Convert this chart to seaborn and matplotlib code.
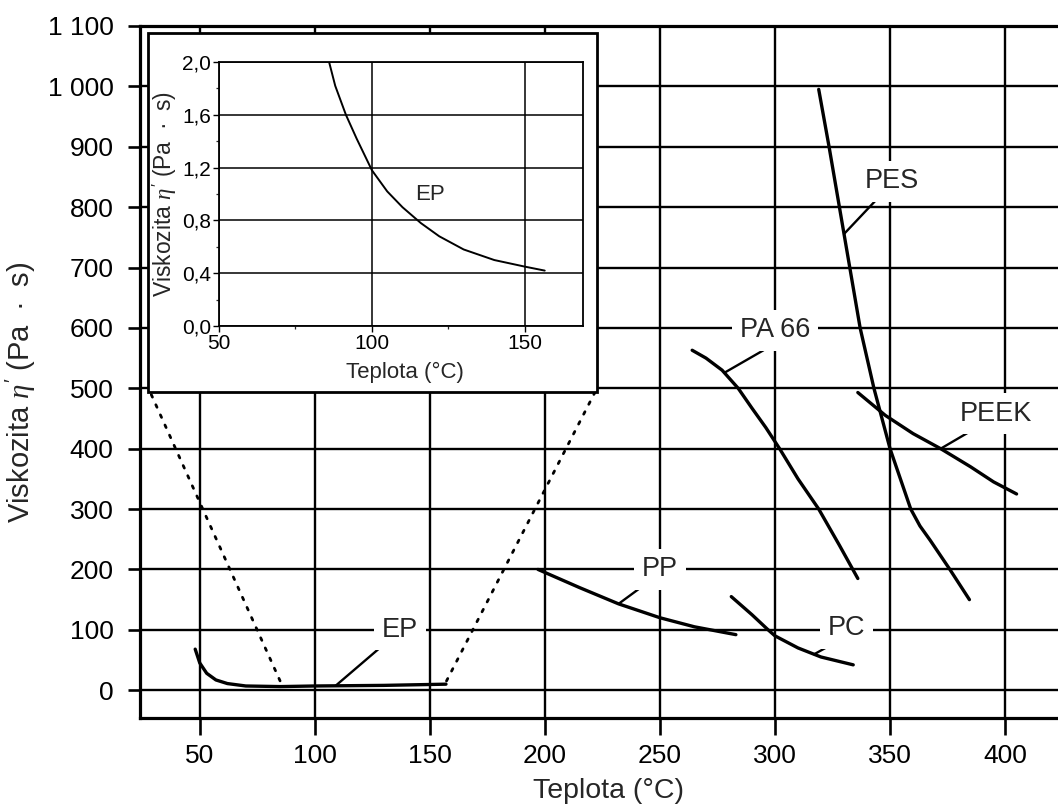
import numpy as np
import pandas as pd
import matplotlib
matplotlib.use("Agg")
import matplotlib.pyplot as plt
from matplotlib.patches import Rectangle, ConnectionPatch
from matplotlib.ticker import FuncFormatter, MultipleLocator
import seaborn as sns

# ---- viscosity curves (temperature in °C, viscosity in Pa·s) ----
ep_t = [48, 50, 53, 57, 62, 70, 85, 100, 130, 157]
ep_v = [68, 45, 28, 17, 11, 7, 6, 7, 8, 10]
pp_t = [197, 215, 232, 250, 265, 283]
pp_v = [200, 170, 143, 120, 105, 92]
pc_t = [281, 290, 297, 300, 310, 320, 334]
pc_v = [155, 125, 100, 90, 70, 55, 42]
pa66_t = [264, 270, 277, 284, 290, 296, 302, 310, 319, 328, 336]
pa66_v = [563, 550, 530, 500, 467, 435, 400, 350, 300, 240, 185]
pes_t = [319, 323.5, 328, 332.5, 337, 343, 350, 354.5, 359, 363, 367.5, 376, 384.5]
pes_v = [995, 900, 800, 700, 600, 500, 400, 350, 300, 272, 248, 200, 150]
peek_t = [336, 348, 360, 372, 385, 395, 405]
peek_v = [493, 455, 425, 400, 370, 345, 325]

# detail of the epoxy curve
inset_t = [86, 88, 91.5, 95, 100, 105, 110, 116, 122, 130, 140, 150, 156.5]
inset_v = [2.0, 1.82, 1.6, 1.42, 1.18, 1.02, 0.9, 0.78, 0.68, 0.58, 0.5, 0.45, 0.42]

main_yticks = list(range(0, 1101, 100))
main_xticks = [50, 100, 150, 200, 250, 300, 350, 400]
inset_xticks = [50, 100, 150]
inset_yticks = [0.0, 0.4, 0.8, 1.2, 1.6, 2.0]

curves = {
    "EP": (ep_t, ep_v),
    "PP": (pp_t, pp_v),
    "PC": (pc_t, pc_v),
    "PA 66": (pa66_t, pa66_v),
    "PES": (pes_t, pes_v),
    "PEEK": (peek_t, peek_v),
}

# label text position, leader start, temperature where leader meets the curve
labels = {
    "EP": ((137, 100), (131, 79), 109),
    "PP": ((250, 200), (244.5, 178), 232),
    "PA 66": ((300, 596), (295, 563), 278),
    "PES": ((351, 843), (344.5, 814), 330),
    "PEEK": ((396, 458), (385, 429), 372),
    "PC": ((331, 103), (325.7, 78), 317),
}

y_title = "Viskozita $\\eta'$ (Pa\u2002·\u2002s)"

sns.set_style("ticks")
plt.rcParams["font.family"] = ["Liberation Sans", "DejaVu Sans"]
plt.rcParams["mathtext.fontset"] = "custom"
plt.rcParams["mathtext.rm"] = "Liberation Sans"
plt.rcParams["mathtext.it"] = "Liberation Serif:italic"

fig = plt.figure(figsize=(10.58, 8.07), dpi=100)
ax = fig.add_axes([0.1323, 0.1103, 0.8677, 0.8575])

rows = []
for name, (t, v) in curves.items():
    for ti, vi in zip(t, v):
        rows.append({"material": name, "T": ti, "eta": vi})
df = pd.DataFrame(rows)

sns.lineplot(data=df, x="T", y="eta", units="material", estimator=None,
             sort=False, color="black", lw=2.4, ax=ax, zorder=3)

ax.set_xlim(24, 423)
ax.set_ylim(-46, 1100)
ax.set_xticks(main_xticks)
ax.set_yticks(main_yticks)
ax.set_yticklabels([f"{v:,}".replace(",", " ") for v in main_yticks])
ax.grid(True, color="black", lw=1.7)
ax.set_axisbelow(True)
for s in ["left", "bottom", "top"]:
    ax.spines[s].set_linewidth(2.3)
    ax.spines[s].set_color("black")
ax.spines["right"].set_visible(False)
ax.tick_params(axis="y", length=9, width=1.9, pad=10, labelsize=19, colors="black")
ax.tick_params(axis="x", length=12, width=1.9, pad=7, labelsize=19, colors="black")
ax.set_xlabel("Teplota (°C)", fontsize=20.5)
ax.xaxis.set_label_coords(0.510, -0.087)
ax.set_ylabel(y_title, fontsize=21)
ax.yaxis.set_label_coords(-0.111, 0.471)

# curve labels with leader lines
for name, ((tx, ty), (lx, ly), t_hit) in labels.items():
    t, v = curves[name]
    v_hit = np.interp(t_hit, t, v)
    ax.plot([lx, t_hit], [ly, v_hit], color="black", lw=1.7, zorder=3)
    ax.text(tx, ty, name, fontsize=19.5, ha="center", va="center", zorder=4,
            bbox=dict(boxstyle="square,pad=0.28", fc="white", ec="none"))

# framed detail panel
box = Rectangle((0.1399, 0.5143), 0.4244, 0.4448, transform=fig.transFigure,
                fc="white", ec="black", lw=2.0, zorder=5)
fig.add_artist(box)

axin = fig.add_axes([0.2070, 0.5960, 0.3440, 0.3271], zorder=6)
sns.lineplot(x=inset_t, y=inset_v, ax=axin, color="black", lw=1.4)
axin.set_xlim(50, 169)
axin.set_ylim(0, 2.0)
axin.set_xticks(inset_xticks)
axin.set_yticks(inset_yticks)
axin.xaxis.set_minor_locator(MultipleLocator(25))
axin.yaxis.set_minor_locator(MultipleLocator(0.2))
axin.yaxis.set_major_formatter(FuncFormatter(lambda v, p: f"{v:.1f}".replace(".", ",")))
axin.grid(True, which="major", color="black", lw=1.1)
axin.tick_params(which="major", length=4, width=1.0, pad=1.5, labelsize=15, colors="black")
axin.tick_params(which="minor", length=2, width=0.9)
for s in axin.spines.values():
    s.set_linewidth(1.3)
    s.set_color("black")
axin.set_xlabel("Teplota (°C)", fontsize=16)
axin.xaxis.set_label_coords(0.51, -0.135)
axin.set_ylabel(y_title, fontsize=16.5)
axin.yaxis.set_label_coords(-0.11, 0.5)
axin.text(119, 1.0, "EP", fontsize=16, ha="center", va="center")

# dotted connectors from the panel corners down to the epoxy curve
for corner, t_hit in [((0.1430, 0.5110), inset_t[0]), ((0.5625, 0.5143), inset_t[-1])]:
    con = ConnectionPatch(xyA=corner, coordsA=fig.transFigure,
                          xyB=(t_hit, np.interp(t_hit, ep_t, ep_v)), coordsB=ax.transData,
                          linestyle=(0, (1, 3)), lw=2.0, color="black", zorder=2)
    fig.add_artist(con)

fig.savefig("out.png", dpi=100, facecolor="white")
